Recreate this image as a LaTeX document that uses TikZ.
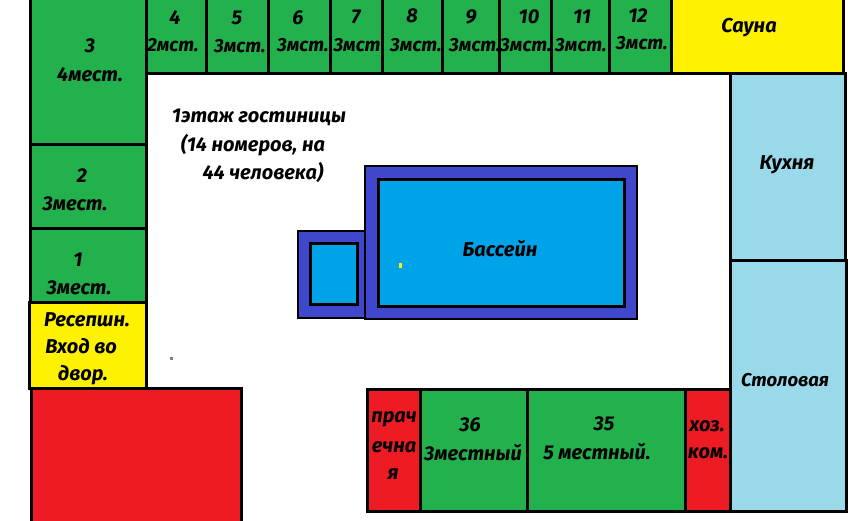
\documentclass[tikz,border=0pt]{standalone}
\usepackage{fontspec}
\setmainfont{Fira Sans}
\definecolor{rgreen}{HTML}{22B14C}
\definecolor{ryellow}{HTML}{FFF200}
\definecolor{rred}{HTML}{ED1C24}
\definecolor{rblue}{HTML}{99D9EA}
\definecolor{pwater}{HTML}{00A2E8}
\definecolor{pframe}{HTML}{3F48CC}
\tikzset{
  room/.style={draw=black,line width=3pt},
  green room/.style={room,fill=rgreen},
  yellow room/.style={room,fill=ryellow},
  red room/.style={room,fill=rred},
  blue room/.style={room,fill=rblue},
  frame room/.style={draw=black,line width=2.6pt,fill=pframe},
  water room/.style={draw=black,line width=3pt,fill=pwater},
  lbl/.style={inner sep=0pt,yshift=-1.5pt,font=\fontsize{20}{22}\selectfont\bfseries\itshape,text=black},
  lblcell/.style={lbl,font=\fontsize{19}{22}\selectfont\bfseries\itshape},
  lblnarrow/.style={lbl,font=\fontsize{18.5}{22}\selectfont\bfseries\itshape},
}
\begin{document}
\begin{tikzpicture}[x=1pt,y=-1pt]
\useasboundingbox (0,0) rectangle (867,521);
\fill[white] (0,0) rectangle (867,521);
% left column
\draw[green room] (30,-3) rectangle (146,145);
\draw[green room] (30,145) rectangle (146,229);
\draw[green room] (30,229) rectangle (146,302);
\draw[yellow room] (29,302) rectangle (146,388);
\draw[red room] (31,388) rectangle (241,524);
% top row
\foreach \a/\b in {146/206,206/268,268/330,330/382,382/442,442/499,499/551,551/609,609/671}
  \draw[green room] (\a,-3) rectangle (\b,74);
\draw[yellow room] (671,-3) rectangle (843,74);
% right column
\draw[blue room] (730,74) rectangle (845,261);
\draw[blue room] (730,261) rectangle (846,511);
% bottom row
\draw[red room] (367,389) rectangle (420,511);
\draw[green room] (420,389) rectangle (527,511);
\draw[green room] (527,389) rectangle (685,511);
\draw[red room] (685,389) rectangle (730,511);
% pools
\draw[frame room] (298,231) rectangle (366,318);
\draw[water room] (310,244) rectangle (357,304);
\draw[frame room] (365,166) rectangle (637,319);
\draw[water room] (378,180) rectangle (624,306);
\fill[ryellow] (398.5,263) rectangle (401.5,268);
\fill[gray] (169.5,356.5) rectangle (172.5,359.5);
% labels
\node[lbl] (n3) at (90,44) {3};
\node[lbl] (n3b) at (90,73) {4мест.};
\node[lbl] (n2) at (82,174) {2};
\node[lbl] (n2b) at (75,202) {3мест.};
\node[lbl] (n1) at (78,258) {1};
\node[lbl] (n1b) at (79,286) {3мест.};
\node[lbl] (rec1) at (87,318) {Ресепшн.};
\node[lbl] (rec2) at (81,345) {Вход во};
\node[lbl] (rec3) at (83,374) {двор.};
\node[lbl] (n4) at (175,16) {4};
\node[lblcell] (n4b) at (173,44) {2мст.};
\node[lbl] (n5) at (237,16) {5};
\node[lblcell] (n5b) at (240,45) {3мст.};
\node[lbl] (n6) at (298,16) {6};
\node[lblcell] (n6b) at (303,44) {3мст.};
\node[lbl] (n7) at (356,15) {7};
\node[lblcell] (n7b) at (357,44) {3мст};
\node[lbl] (n8) at (412,14) {8};
\node[lblcell] (n8b) at (416,44) {3мст.};
\node[lbl] (n9) at (471,15) {9};
\node[lblcell] (n9b) at (475,44) {3мст.};
\node[lbl] (n10) at (529,15) {10};
\node[lblcell] (n10b) at (526,44) {3мст.};
\node[lbl] (n11) at (582,15) {11};
\node[lblcell] (n11b) at (581,44) {3мст.};
\node[lbl] (n12) at (638,14) {12};
\node[lblcell] (n12b) at (642,42) {3мст.};
\node[lbl] (sauna) at (749,26) {Сауна};
\node[lbl] (kitchen) at (787,163) {Кухня};
\node[lblnarrow] (dining) at (785,379) {Столовая};
\node[lbl] (pool) at (500,247) {Бассейн};
\node[lbl] (t1) at (259,116) {1этаж гостиницы};
\node[lbl] (t2) at (253,144) {(14 номеров, на};
\node[lbl] (t3) at (263,171) {44 человека)};
\node[lbl] (l1) at (394,418) {прач};
\node[lbl] (l2) at (394,446) {ечна};
\node[lbl] (l3) at (393,473) {я};
\node[lbl] (n36) at (470,423) {36};
\node[lbl] (n36b) at (473,451) {3местный};
\node[lbl] (n35) at (604,422) {35};
\node[lbl] (n35b) at (597,450) {5 местный.};
\node[lbl] (h1) at (707,425) {хоз.};
\node[lbl] (h2) at (708,452) {ком.};
\end{tikzpicture}
\end{document}
